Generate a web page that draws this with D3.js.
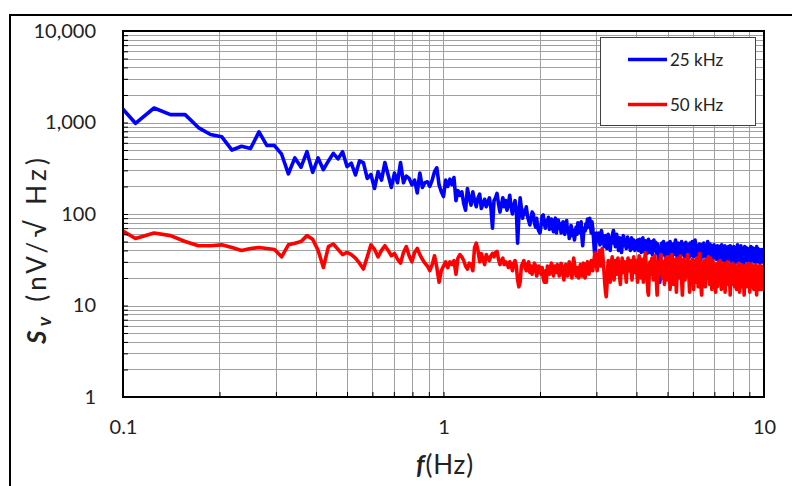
<!DOCTYPE html>
<html><head><meta charset="utf-8">
<script src="https://cdn.jsdelivr.net/npm/d3@7"></script>
<style>
body{margin:0;background:#fff}
text{font-family:Lato,"Open Sans",sans-serif;fill:#222}
</style>
</head><body>
<svg id="chart" width="792" height="486"></svg>
<script>
// ---------- DATA ----------
// Spectra sampled at f = n * DF (Hz); each block gives its first index n and the values (nV/sqrt(Hz)).
const DF = 1 / 64;
const xTickLabels = [0.1, 1, 10];
const yTickLabels = [1, 10, 100, 1000, 10000];
const seriesNames = ["25 kHz", "50 kHz"];
const seriesColors = ["#0000ff", "#ff0000"];

const blockStarts = [6, 65, 129, 193, 257, 321, 449];

const blue_a = [1800,980,1440,1220,1220,880,740,700,500,550,
520,790,560,560,450,275,410,325,480,285,
410,305,380,460,400,480,330,360,267,380,
365,245,270,190,290,235,365,267,195,280,
220,365,220,260,245,208,235,170,280,195,
220,225,200,235,290,320,208,175,155];
const blue_b = [235,200,240,210,250,140,180,160,175,130,
110,190,150,125,175,140,120,150,165,115,
130,145,120,135,150,115,70,140,150,168,
130,105,125,150,120,140,110,130,160,120,
100,125,140,110,48,95,150,115,90,110,
100,120,95,85,76,90,105,100,80,72,
90,70,65,62];
const blue_c = [75,95,98,80,70,85,78,92,68,75,
88,72,64,80,90,62,75,86,70,78,
62,72,82,66,60,74,85,64,70,54,
62,75,68,58,66,52,62,72,60,80,
68,74,62,82,56,45,60,70,65,78,
70,88,80,72,90,75,62,82,70,55,
42,34,48,62];
const blue_d = [55,50,62,58,46,52,66,60,48,55,
44,50,58,48,42,52,60,55,46,40,
50,56,48,62,66,58,50,44,52,60,
54,46,40,48,55,50,44,38,46,54,
58,50,45,52,48,42,50,56,48,44,
52,46,40,48,55,50,42,47,52,45,
40,46,50,44];
const blue_e = [48,52,44,40,47,53,46,42,38,45,
50,55,48,43,39,45,51,47,42,37,
44,49,53,46,41,38,44,50,46,40,
36,42,48,52,45,40,44,49,42,37,
43,47,40,34,28,22,18,26,36,44,
48,42,38,45,50,44,39,35,41,46,
42,37,44,48];
const blue_f = [42,38,34,40,46,50,44,39,35,31,37,43,47,41,36,40,
45,49,52,46,41,37,33,39,44,48,42,38,34,30,36,41,
46,50,44,40,36,42,47,43,38,34,40,45,49,44,39,35,
41,46,42,37,33,38,44,48,43,39,35,40,45,50,46,41,
37,34,39,44,48,52,47,42,38,35,40,45,41,37,33,38,
43,47,42,38,34,31,37,42,46,41,37,34,39,44,48,43,
38,35,40,44,39,35,32,37,42,46,50,45,40,36,33,38,
43,47,42,38,34,30,36,41,45,40,36,33,38,43,46,41];
const blue_g = [37,34,39,44,40,36,32,37,42,45,40,35,31,36,41,44,
39,35,32,30,35,40,44,46,41,37,33,38,42,38,34,31,
36,41,45,40,36,33,29,34,39,43,38,34,31,36,40,44,
39,35,32,37,42,45,40,36,33,30,35,39,43,38,34,31,
35,40,44,39,35,32,29,34,38,42,37,33,30,35,39,43,
46,41,37,34,31,36,40,44,39,35,32,36,41,45,40,36,
33,30,34,38,42,37,33,30,28,33,37,41,44,39,35,32,
36,40,43,38,34,31,35,39,42,37,33,30,34,38,41,36,
32,29,33,37,41,44,39,35,32,36,40,43,38,34,31,35,
39,42,37,33,30,34,38,41,36,32,29,33,37,40,44,39,
35,32,36,39,42,37,33,30,34,38,41,36,32,29,33,37,
40,35,31,34,38,41,36,32,30,34,37,40,35,31,33,36];

const red_a = [74,54,62,58,50,45,45,46,43,40,
42,43,42,41,34,46,48,50,58,53,
40,26,44,47,41,36,38,36,33,29,
25,34,46,41,34,40,45,40,35,37,
32,29,38,44,35,30,38,42,36,32,
29,27,24,28,35,26,18,24,27];
const red_b = [30,26,30,28,31,22,33,36,34,31,
27,25,29,28,24,43,48,40,30,37,
32,28,36,33,31,35,37,34,38,39,
32,28,31,33,28,30,29,26,30,28,
24,29,31,27,19,16,18,27,29,31,
26,24,28,30,23,27,22,25,29,27,
21,24,27,25];
const red_c = [22,26,20,18,24,18,27,25,22,26,
29,24,21,27,25,23,28,26,21,24,
29,27,22,19,25,28,24,21,26,30,
27,23,20,25,33,29,24,21,26,23,
20,24,28,25,21,26,29,24,20,23,
27,30,26,22,25,28,31,27,24,29,
33,38,34,28];
const red_d = [24,30,36,40,33,27,36,42,35,28,
22,17,14,12.5,16,24,31,27,22,18,
24,30,34,28,23,19,25,31,27,22,
26,33,29,24,20,17,23,28,33,27,
23,26,30,25,21,18,24,29,33,28,
24,27,31,26,22,19,25,30,34,28,
23,26,31,27];
const red_e = [22,18,24,30,35,29,24,20,26,32,
27,22,18,24,29,34,38,31,25,21,
17,14,13,18,25,30,26,22,27,33,
28,23,19,24,29,35,30,25,21,16,
13,19,25,30,26,22,27,32,36,29,
24,20,25,30,26,21,17,22,28,33,
27,23,19,24];
const red_f = [29,34,28,23,19,15,20,26,31,36,30,25,21,17,22,27,
32,27,23,19,14,18,24,29,33,28,24,20,25,30,35,29,
24,20,16,13,17,23,28,32,27,23,19,24,29,25,21,26,
31,36,30,25,21,17,14,19,25,30,26,22,27,32,28,23,
19,15,20,26,31,27,22,18,23,28,33,28,24,20,16,21,
27,32,37,31,26,22,18,14,13,18,24,29,25,21,26,31,
27,23,19,16,21,27,32,28,24,20,25,30,34,29,24,20,
17,22,28,33,28,23,19,15,20,26,31,27,23,19,24,29];
const red_g = [25,21,17,14,19,24,28,24,20,16,21,26,30,25,21,18,
22,27,31,26,22,18,15,19,24,28,23,19,16,20,25,29,
24,20,17,14,18,23,27,23,19,22,26,30,25,21,17,20,
24,28,23,19,16,13,17,22,26,22,18,21,25,29,24,20,
17,21,25,28,23,19,16,20,24,27,22,18,15,19,23,27,
23,19,22,26,29,24,20,17,14,18,22,26,22,18,21,25,
28,23,19,16,20,24,27,22,18,15,13,17,22,26,21,18,
21,25,28,23,19,16,20,24,27,22,18,21,25,29,24,20,
17,14,18,22,26,22,18,21,25,28,23,19,16,20,24,27,
22,18,15,19,23,26,22,18,21,25,28,23,19,16,13,17,
21,25,22,18,21,24,27,22,18,15,19,23,26,21,17,20,
24,27,22,18,15,18,22,25,21,17,20,24,27,22,18,21];

const blueBlocks = [blue_a, blue_b, blue_c, blue_d, blue_e, blue_f, blue_g];
const redBlocks = [red_a, red_b, red_c, red_d, red_e, red_f, red_g];

function toPoints(blocks) {
  const pts = [];
  blocks.forEach((vals, b) => {
    vals.forEach((v, i) => pts.push({ f: (blockStarts[b] + i) * DF, v }));
  });
  return pts;
}
const series = [toPoints(blueBlocks), toPoints(redBlocks)];

// ---------- LAYOUT ----------
const W = 792, H = 486;
const L = 123, R = 764, T = 31, B = 397;
const svg = d3.select("#chart");
svg.append("rect").attr("width", W).attr("height", H).attr("fill", "#fff");
// outer frame (extends past the page on right/bottom)
svg.append("rect").attr("x", 10).attr("y", 15).attr("width", 900).attr("height", 600)
  .attr("fill", "none").attr("stroke", "#000").attr("stroke-width", 2);

const x = d3.scaleLog().domain([0.1, 10]).range([L, R]);
const y = d3.scaleLog().domain([1, 10000]).range([B, T]);

const xMinor = [], yMinor = [];
[0.1, 1].forEach(d => { for (let k = 1; k <= 9; k++) xMinor.push(d * k); });
xMinor.push(10);
[1, 10, 100, 1000].forEach(d => { for (let k = 1; k <= 9; k++) yMinor.push(d * k); });
yMinor.push(10000);

// gridlines
const grid = svg.append("g").attr("stroke", "#a0a0a0").attr("stroke-width", 1);
grid.selectAll("line.v").data(xMinor).join("line")
  .attr("x1", d => Math.round(x(d)) + 0.5).attr("x2", d => Math.round(x(d)) + 0.5)
  .attr("y1", T).attr("y2", B);
grid.selectAll("line.h").data(yMinor).join("line")
  .attr("y1", d => Math.round(y(d)) + 0.5).attr("y2", d => Math.round(y(d)) + 0.5)
  .attr("x1", L).attr("x2", R);

// data lines
svg.append("clipPath").attr("id", "clip").append("rect")
  .attr("x", L).attr("y", T).attr("width", R - L).attr("height", B - T);
const line = d3.line().x(d => x(d.f)).y(d => y(d.v));
const gl = svg.append("g").attr("clip-path", "url(#clip)");
series.forEach((s, i) => {
  gl.append("path").datum(s).attr("d", line).attr("fill", "none")
    .attr("stroke", seriesColors[i]).attr("stroke-width", 3.6)
    .attr("stroke-linejoin", "round").attr("stroke-linecap", "round");
});

// axes
const fmtY = d3.format(",");
const yAxis = d3.axisLeft(y).tickValues(yMinor).tickSize(-5).tickPadding(27)
  .tickFormat(d => yTickLabels.includes(d) ? fmtY(d) : "");
const gy = svg.append("g").attr("transform", `translate(${L},0)`).call(yAxis);
const xAxis = d3.axisBottom(x).tickValues(xMinor).tickSize(-5).tickPadding(23)
  .tickFormat(d => xTickLabels.some(t => Math.abs(t - d) < 1e-9) ? String(d) : "");
const gx = svg.append("g").attr("transform", `translate(0,${B})`).call(xAxis);
[gx, gy].forEach(g => {
  g.select(".domain").remove();
  g.selectAll(".tick line").attr("stroke", "#000").attr("stroke-width", 1);
  g.selectAll(".tick text").attr("font-family", "Lato, 'Open Sans', sans-serif")
    .attr("font-size", 20).attr("fill", "#222");
});

// plot frame
svg.append("rect").attr("x", L).attr("y", T).attr("width", R - L).attr("height", B - T)
  .attr("fill", "none").attr("stroke", "#000").attr("stroke-width", 2);

// axis titles
const xt = svg.append("text").attr("x", 445).attr("y", 474).attr("text-anchor", "middle")
  .attr("font-size", 26).attr("letter-spacing", 0.8);
xt.append("tspan").attr("font-weight", "bold").attr("font-style", "italic").text("f");
xt.append("tspan").text("(Hz)");

const yt = svg.append("text").attr("transform", "translate(46,251) rotate(-90)")
  .attr("text-anchor", "middle").attr("font-size", 26)
  .attr("textLength", 186).attr("lengthAdjust", "spacing");
yt.append("tspan").attr("font-weight", "bold").attr("font-style", "italic").text("S");
yt.append("tspan").attr("font-weight", "bold").attr("font-style", "italic")
  .attr("font-size", 19).attr("dy", 5).text("v");
yt.append("tspan").attr("dy", -5).text(" (nV/");
yt.append("tspan").attr("font-size", 28).text("\u221A");
yt.append("tspan").text(" Hz)");

// legend
const lg = svg.append("g");
lg.append("rect").attr("x", 600.5).attr("y", 37.5).attr("width", 155).attr("height", 88)
  .attr("fill", "#fff").attr("stroke", "#404040").attr("stroke-width", 1);
const legY = [59.5, 104.5];
seriesNames.forEach((name, i) => {
  lg.append("line").attr("x1", 628).attr("x2", 667).attr("y1", legY[i]).attr("y2", legY[i])
    .attr("stroke", seriesColors[i]).attr("stroke-width", 3.6);
  lg.append("text").attr("x", 670).attr("y", legY[i]).attr("dy", "0.36em")
    .attr("font-size", 17).text(name);
});
</script>
</body></html>
